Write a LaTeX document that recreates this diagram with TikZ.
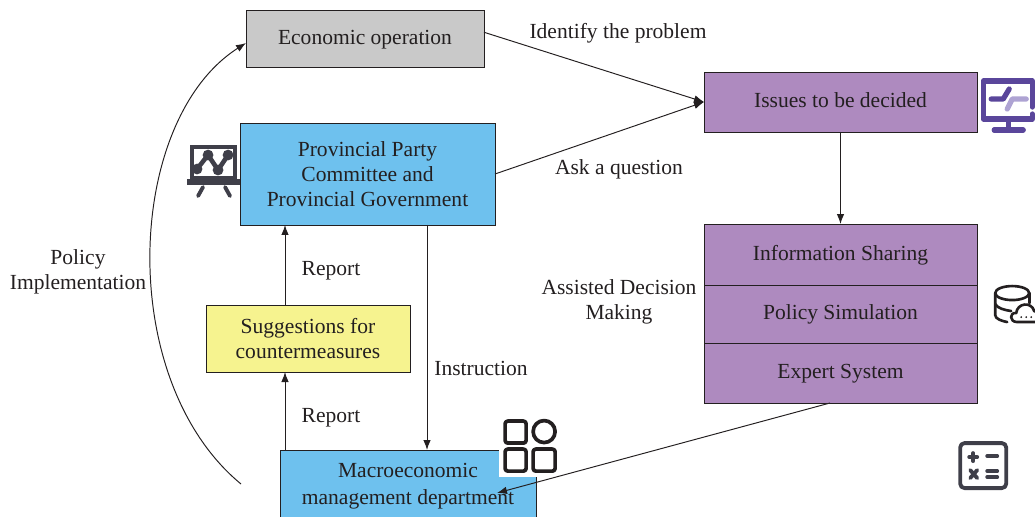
\documentclass[tikz,border=0pt]{standalone}
\usepackage{fontspec}
\setmainfont{Liberation Serif}
\usepackage{tikz}
\usetikzlibrary{arrows.meta,calc}
\usetikzlibrary{positioning}
\definecolor{inkdark}{HTML}{231F20}
\definecolor{boxgrey}{HTML}{C9C9C9}
\definecolor{boxblue}{HTML}{6EC1EE}
\definecolor{boxpurple}{HTML}{AE8ABF}
\definecolor{boxyellow}{HTML}{F6F38F}
\definecolor{iconpurple}{HTML}{5A469B}
\definecolor{iconlight}{HTML}{AEA3D3}
\definecolor{icongrey}{HTML}{3F3F49}
\tikzstyle{block} = [draw = inkdark, rectangle, line width = 0.55pt, outer sep = 0pt, align = center, text = inkdark, font = \fontsize{12.25}{14.3}\selectfont]
\tikzstyle{oneline} = [text height = 0.33 cm, text depth = 0.1 cm]
\tikzstyle{label} = [align = center, text = inkdark, yshift = -0.04 cm, font = \fontsize{12.25}{14.3}\selectfont]
\tikzstyle{arrow} = [draw = inkdark, line width = 0.55pt, -{Latex[length=0.2cm,width=0.15cm]}]
\tikzstyle{icon} = [x = 0.02cm, y = -0.02cm, line cap = round, line join = round]

\begin{document}
\begin{tikzpicture}

		\clip (0, 0) rectangle (20.7, -10.34);

		% Presentation board sits behind the blue box
		\begin{scope}[icon, draw = icongrey, line width = 2.2pt]
			\draw[line cap = butt, line join = miter] (192, 147) rectangle (235, 178);
			\draw[line width = 3.4pt, line cap = butt] (187, 182) -- (240, 182);
			\draw (203, 187) -- (198, 196);
			\draw (225, 187) -- (230, 196);
			\draw[line width = 2.6pt] (197, 169) -- (208, 155) -- (218, 170) -- (228, 155);
			\foreach \px/\py in {197/169, 208/155, 218/170, 228/155}
				\fill[icongrey] (\px, \py) circle (5.4);
		\end{scope}

		% Left column
		\node[block, oneline, fill = boxgrey, minimum width = 4.76 cm, minimum height = 1.14 cm] (econ) at (7.3, -0.77) {Economic operation};
		\node[block, fill = boxblue, minimum width = 5.1 cm, minimum height = 2.04 cm, below = 1.12 cm of econ, xshift = 0.05 cm] (prov) {Provincial Party\\Committee and\\Provincial Government};
		\node[block, fill = boxyellow, minimum width = 4.08 cm, minimum height = 1.34 cm, below = 1.6 cm of prov, xshift = -1.19 cm] (sugg) {Suggestions for\\countermeasures};
		\node[block, fill = boxblue, minimum width = 5.12 cm, minimum height = 1.44 cm, below = 1.56 cm of sugg, xshift = 2.0 cm] (macro) {Macroeconomic\\[0.03 cm]management department};

		% Right column
		\node[block, oneline, fill = boxpurple, minimum width = 5.46 cm, minimum height = 1.2 cm, right = 4.4 cm of econ, yshift = -1.27 cm] (issues) {Issues to be decided};
		\node[block, oneline, fill = boxpurple, minimum width = 5.46 cm, minimum height = 1.22 cm, below = 1.84 cm of issues] (info) {Information Sharing};
		\node[block, oneline, fill = boxpurple, minimum width = 5.46 cm, minimum height = 1.16 cm, below = 0 cm of info] (policy) {Policy Simulation};
		\node[block, oneline, fill = boxpurple, minimum width = 5.46 cm, minimum height = 1.2 cm, below = 0 cm of policy] (expert) {Expert System};

		% Labels
		\node[label] (identify) at ($(econ.east) + (2.68, 0.15)$) {Identify the problem};
		\node[label] (ask) at ($(prov.east) + (2.48, 0.14)$) {Ask a question};
		\node[label] (reportup) at ($(sugg.north) + (0.46, 0.72)$) {Report};
		\node[label] (reportlow) at ($(sugg.south) + (0.46, -0.88)$) {Report};
		\node[label] (instruction) at ($(sugg.east) + (1.42, -0.55)$) {Instruction};
		\node[label] (assisted) at ($(policy.west) + (-1.7, 0.28)$) {Assisted Decision\\Making};
		\node[label] (implement) at ($(prov.west) + (-3.24, -1.92)$) {Policy\\Implementation};

		% Free ends of the connectors
		\coordinate (suggtop) at ($(sugg.north) + (-0.46, 0)$);
		\coordinate (suggbot) at ($(sugg.south) + (-0.46, 0)$);
		\coordinate (provbot) at ($(prov.south) + (1.19, 0)$);
		\coordinate (econin) at ($(econ.west) + (0, -0.09)$);
		\coordinate (impstart) at ($(macro.west) + (-0.78, 0.04)$);
		\coordinate (expbot) at ($(expert.south) + (-0.21, 0)$);
		\coordinate (macroin) at ($(macro.east) + (-0.78, -0.14)$);

		% Connect all nodes defined above
		\draw[arrow] (econ.3) -- (issues.west);
		\draw[arrow] (prov.east) -- (issues.west);
		\draw[arrow] (issues.south) -- (info.north);
		\draw[arrow] (suggtop) -- (suggtop |- prov.south);
		\draw[arrow] (suggbot |- macro.north) -- (suggbot);
		\draw[arrow] (provbot) -- (provbot |- macro.north);
		\draw[arrow] (impstart) .. controls (2.3, -7.6) and (2.5, -2.4) .. (econin);

		% Grid icon with its white patch over the box corner
		\begin{scope}[icon, draw = inkdark, line width = 2.1pt]
			\fill[white] (499, 415) rectangle (560, 477);
			\draw[rounded corners = 1.5pt] (505, 421) rectangle (526, 443);
			\draw (544, 431.5) circle (11);
			\draw[rounded corners = 1.5pt] (505, 449) rectangle (526, 471);
			\draw[rounded corners = 1.5pt] (533, 449) rectangle (555, 471);
		\end{scope}
		\draw[arrow] (expbot) -- (macroin);

		% Monitor
		\begin{scope}[icon, draw = iconpurple, line width = 3pt]
			\draw (1032, 107) -- (1032, 81) -- (983, 81) -- (983, 119) -- (1032, 119) -- (1032, 114);
			\draw (1008, 120) -- (1008, 129);
			\draw (994, 130) -- (1023, 130);
			\draw[iconlight] (1007, 109) -- (1012, 99) -- (1026, 99);
			\draw (991, 99) -- (1003, 99) -- (1009, 89);
		\end{scope}

		% Database with cloud
		\begin{scope}[icon, draw = inkdark, line width = 1.5pt]
			\draw (1012, 293) ellipse (17 and 7);
			\draw (995, 293) -- (995, 315) .. controls (995, 319) and (1002, 321) .. (1007, 322);
			\draw (995, 304) .. controls (997, 308) and (1004, 310) .. (1011, 311);
			\draw (1029, 293) -- (1029, 303);
			\draw[fill = white] (1017, 322) .. controls (1009, 322) and (1009, 312) .. (1016, 313) .. controls (1017, 303) and (1031, 301) .. (1034, 311) .. controls (1040, 310) and (1040, 322) .. (1036, 322) -- cycle;
			\foreach \px in {1021, 1026, 1031}
				\fill[inkdark] (\px, 317) circle (1);
		\end{scope}

		% Calculator
		\begin{scope}[icon, draw = icongrey, line width = 2.2pt]
			\draw[rounded corners = 2.5pt] (960, 443) rectangle (1006, 488);
			\draw (969, 457) -- (977, 457);
			\draw (973, 453) -- (973, 461);
			\draw (987, 456) -- (997, 456);
			\draw (970, 470) -- (977, 478);
			\draw (977, 470) -- (970, 478);
			\draw (987, 471) -- (997, 471);
			\draw (987, 477) -- (997, 477);
		\end{scope}

	\end{tikzpicture}
\end{document}
